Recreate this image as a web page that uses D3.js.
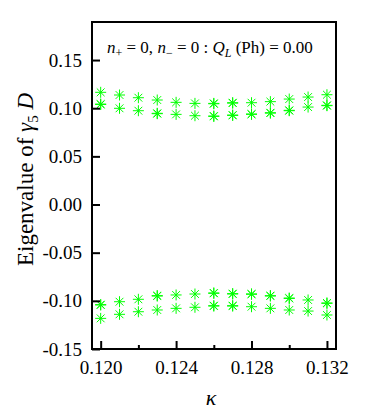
<!DOCTYPE html>
<html>
<head>
<meta charset="utf-8">
<script src="https://cdn.jsdelivr.net/npm/d3@7"></script>
<style>
  html, body { margin: 0; padding: 0; background: #fff; }
  svg { display: block; }
  svg text { font-family: 'Times New Roman', 'Liberation Serif', Times, serif; }
</style>
</head>
<body>
<svg width="382" height="414"></svg>
<script>
// hopping parameter
const kappa = [0.120, 0.121, 0.122, 0.123, 0.124, 0.125, 0.126, 0.127, 0.128, 0.129, 0.130, 0.131, 0.132]

// eigenvalues of gamma5 D, near-degenerate partners in the *2 arrays (null = not resolved)
const posUpper = [0.1165, 0.1137, 0.1109, 0.1085, 0.1061, 0.1050, 0.1050, 0.1057, 0.1057, 0.1068, 0.1095, 0.1116, 0.1140]
const posUpper2 = [null, null, null, null, null, null, 0.1046, 0.1053, null, null, null, null, null]
const posLower = [0.1043, 0.0999, 0.0974, 0.0947, 0.0936, 0.0922, 0.0919, 0.0929, 0.0940, 0.0953, 0.0978, 0.1012, 0.1030]
const posLower2 = [0.1039, null, null, 0.0943, null, null, 0.0915, 0.0925, 0.0936, 0.0949, 0.0974, null, 0.1026]
const negUpper = [-0.1043, -0.1009, -0.0984, -0.0950, -0.0939, -0.0929, -0.0922, -0.0929, -0.0932, -0.0950, -0.0975, -0.0991, -0.1026]
const negUpper2 = [-0.1039, null, null, -0.0946, null, null, -0.0918, -0.0925, -0.0928, -0.0946, -0.0971, null, -0.1022]
const negLower = [-0.1182, -0.1140, -0.1113, -0.1095, -0.1078, -0.1067, -0.1054, -0.1054, -0.1061, -0.1078, -0.1095, -0.1106, -0.1147]
const negLower2 = [null, null, null, null, null, null, -0.1050, -0.1050, null, null, null, null, null]

const yTicks = [-0.15, -0.10, -0.05, 0.00, 0.05, 0.10, 0.15]
const xTicks = [0.120, 0.124, 0.128, 0.132]
const xMinor = [0.122, 0.126, 0.130]

const svg = d3.select('svg')
const mLeft = 92, mRight = 336, mTop = 22, mBottom = 349
const serif = "'Times New Roman', 'Liberation Serif', Times, serif"

const x = d3.scaleLinear().domain([0.11954, 0.13248]).range([mLeft, mRight])
const y = d3.scaleLinear().domain([-0.15, 0.1895]).range([mBottom, mTop])

// points
const series = [posUpper, posUpper2, posLower, posLower2, negUpper, negUpper2, negLower, negLower2]
const pts = []
series.forEach(s => s.forEach((v, i) => { if (v !== null) pts.push([kappa[i], v]) }))

const r = 5.5, d = r * Math.SQRT1_2
const star = `M${-r},0L${r},0M0,${-r}L0,${r}M${-d},${-d}L${d},${d}M${-d},${d}L${d},${-d}`

svg.append('g')
  .selectAll('path')
  .data(pts)
  .enter()
  .append('path')
  .attr('transform', p => `translate(${x(p[0])}, ${y(p[1])})`)
  .attr('d', star)
  .attr('fill', 'none')
  .attr('stroke', '#00ff00')
  .attr('stroke-width', 1)

// axes, ticks pointing inward
const xAxis = svg.append('g').attr('transform', `translate(0, ${mBottom})`)
  .call(d3.axisBottom(x).tickValues(xTicks).tickSize(-8).tickPadding(12).tickFormat(d3.format('.3f')))
xAxis.attr('font-family', serif).attr('font-size', 19)
xAxis.select('.domain').remove()
xAxis.selectAll('line').attr('stroke-width', 2)
xAxis.selectAll('text').attr('fill', '#000').style('font-family', serif)

const xAxisMinor = svg.append('g').attr('transform', `translate(0, ${mBottom})`)
  .call(d3.axisBottom(x).tickValues(xMinor).tickSize(-4).tickFormat(''))
xAxisMinor.select('.domain').remove()
xAxisMinor.selectAll('line').attr('stroke-width', 2)

const yAxis = svg.append('g').attr('transform', `translate(${mLeft}, 0)`)
  .call(d3.axisLeft(y).tickValues(yTicks).tickSize(-8).tickPadding(10).tickFormat(v => d3.format('.2f')(v).replace('−', '-')))
yAxis.attr('font-family', serif).attr('font-size', 19)
yAxis.select('.domain').remove()
yAxis.selectAll('line').attr('stroke-width', 2)
yAxis.selectAll('text').attr('fill', '#000').style('font-family', serif)

// frame
svg.append('rect')
  .attr('x', mLeft).attr('y', mTop)
  .attr('width', mRight - mLeft).attr('height', mBottom - mTop)
  .attr('fill', 'none').attr('stroke', '#000').attr('stroke-width', 2)

// title inside the frame
const title = svg.append('text').attr('x', 107).attr('y', 53).attr('font-size', 17)
title.append('tspan').attr('font-style', 'italic').text('n')
title.append('tspan').attr('font-size', 12).attr('dy', 4).text('+')
title.append('tspan').attr('dy', -4).text(' = 0, ')
title.append('tspan').attr('font-style', 'italic').text('n')
title.append('tspan').attr('font-size', 12).attr('dy', 4).text('−')
title.append('tspan').attr('dy', -4).text(' = 0 : ')
title.append('tspan').attr('font-style', 'italic').text('Q')
title.append('tspan').attr('font-style', 'italic').attr('font-size', 12).attr('dy', 4).text('L')
title.append('tspan').attr('dy', -4).text(' (Ph) = 0.00')

// axis labels
svg.append('text')
  .attr('x', (mLeft + mRight) / 2 - 3).attr('y', 405)
  .attr('text-anchor', 'middle')
  .attr('font-size', 22).attr('font-style', 'italic')
  .text('κ')

const yl = svg.append('text')
  .attr('transform', `translate(33, ${(mTop + mBottom) / 2 - 6}) rotate(-90)`)
  .attr('text-anchor', 'middle')
  .attr('font-size', 23)
yl.append('tspan').text('Eigenvalue of ')
yl.append('tspan').attr('font-style', 'italic').text('γ')
yl.append('tspan').attr('font-size', 15).attr('dy', 5).text('5')
yl.append('tspan').attr('dy', -5).attr('font-style', 'italic').text(' D')
</script>
</body>
</html>
